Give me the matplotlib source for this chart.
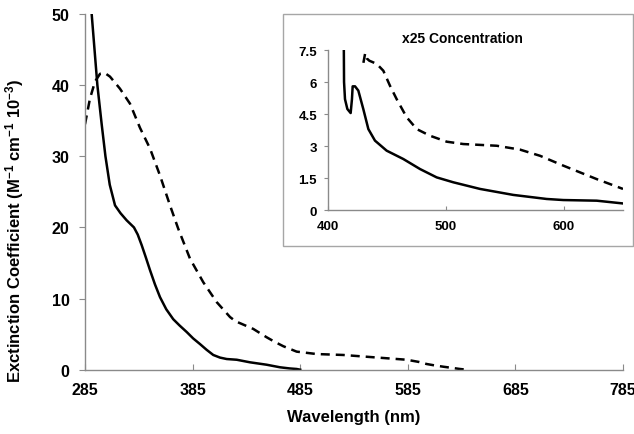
import matplotlib
matplotlib.use("Agg")
import matplotlib.pyplot as plt
from matplotlib.patches import Rectangle

plt.rcParams['font.family'] = ['Liberation Sans', 'DejaVu Sans']
plt.rcParams['font.weight'] = 'bold'
plt.rcParams['mathtext.fontset'] = 'custom'
plt.rcParams['mathtext.bf'] = 'Liberation Sans:bold'
plt.rcParams['mathtext.rm'] = 'Liberation Sans:bold'
plt.rcParams['mathtext.default'] = 'bf'

# ---- main spectrum (solid) ----
solid_wl = [289, 291.2, 296.5, 300.5, 304, 308, 312.9, 318, 323.7, 330.5, 334,
            337.7, 341.5, 345.4, 350, 354.7, 360.5, 367, 373, 379.5, 385.5, 391.9,
            398, 404.2, 410.5, 416.7, 426, 438.3, 453.8, 466.2, 475, 481.7, 485]
solid_eps = [55, 50, 40, 34.5, 30, 26.0, 23.1, 22.0, 21.0, 20.0, 19.0,
             17.5, 15.8, 14.0, 12.0, 10.2, 8.5, 7.1, 6.2, 5.3, 4.4, 3.6,
             2.8, 2.07, 1.7, 1.5, 1.4, 1.04, 0.7, 0.34, 0.18, 0.1, 0.0]

# ---- main spectrum (dashed) ----
dash_wl = [285, 289.6, 294.3, 299, 303.5, 308.2, 317.5, 326.8, 336.1, 345.4, 354.7,
           364, 371.7, 382.6, 394.9, 407.4, 419.8, 425, 430.6, 441.4, 453.8, 461.5,
           469.3, 481.7, 500.3, 525, 552.9, 583.9, 595, 602.5, 610, 618, 633.5, 639.7]
dash_eps = [34.5, 38.1, 40.5, 41.6, 41.7, 41.2, 39.5, 37.4, 34.0, 31.1, 27.3,
            23.1, 19.8, 15.6, 12.3, 9.5, 7.4, 6.8, 6.44, 5.73, 4.56, 3.9,
            3.3, 2.54, 2.2, 2.07, 1.75, 1.4, 1.1, 0.8, 0.6, 0.42, 0.1, 0.0]

# ---- inset (x25 concentration) ----
in_solid_wl = [413.3, 413.6, 414.4, 416.4, 419.2, 420.3, 420.9, 422.9, 425.7, 429.9,
               434.2, 439.8, 449.7, 463.8, 478, 492.1, 506.2, 528.8, 557, 585.3,
               599.4, 627.7, 650]
in_solid_val = [8.5, 6.0, 5.2, 4.74, 4.55, 5.2, 5.8, 5.8, 5.6, 4.74,
                3.8, 3.26, 2.79, 2.40, 1.93, 1.54, 1.31, 1.0, 0.72, 0.53,
                0.48, 0.45, 0.32]
in_dash_wl = [430, 431.5, 433, 435, 441.3, 446.9, 452.5, 458.2, 466.7, 475.2,
              486.4, 500.6, 514.7, 543, 562.7, 579.7, 599.4, 627.7, 650]
in_dash_val = [6.9, 7.35, 7.1, 7.0, 6.85, 6.53, 5.83, 5.2, 4.35, 3.8,
               3.49, 3.21, 3.1, 3.02, 2.84, 2.55, 2.09, 1.46, 1.0]

main_xticks = [285, 385, 485, 585, 685, 785]
main_yticks = [0, 10, 20, 30, 40, 50]
inset_xticks = [400, 500, 600]
inset_yticks = [0, 1.5, 3, 4.5, 6, 7.5]
inset_yticklabels = ['0', '1.5', '3', '4.5', '6', '7.5']

W, H = 634, 435
fig = plt.figure(figsize=(W / 100, H / 100), dpi=100)
spine_c = '#8a8a8a'

ax = fig.add_axes([85 / W, 1 - 370.7 / H, (623 - 85) / W, (370.7 - 15) / H])
ax.plot(solid_wl, solid_eps, color='black', lw=1.8, solid_joinstyle='round')
ax.plot(dash_wl, dash_eps, color='black', lw=1.8, linestyle=(0, (3.6, 2.4)))
ax.set_xlim(285, 785)
ax.set_ylim(0, 50)
ax.set_xticks(main_xticks)
ax.set_yticks(main_yticks)
for s in ['top', 'right']:
    ax.spines[s].set_visible(False)
for s in ['left', 'bottom']:
    ax.spines[s].set_color(spine_c)
    ax.spines[s].set_linewidth(1.0)
ax.tick_params(axis='x', direction='in', length=4, color=spine_c, labelsize=11.5, pad=9)
ax.tick_params(axis='y', direction='out', length=4, color=spine_c, labelsize=11.5, pad=7)
for lab in ax.get_xticklabels() + ax.get_yticklabels():
    lab.set_fontweight('bold')

fig.text(354 / W, 1 - 418 / H, 'Wavelength (nm)', ha='center', va='center',
         fontsize=12, fontweight='bold')
fig.text(15 / W, 1 - 231 / H,
         r'Exctinction Coefficient (M$^{-1}$ cm$^{-1}$ 10$^{-3}$)',
         ha='center', va='center', rotation=90, fontsize=12, fontweight='bold')

# inset frame
frame = Rectangle((283 / W, 1 - 247 / H), (633 - 283) / W, (247 - 15) / H,
                  transform=fig.transFigure, facecolor='white', edgecolor='#a6a6a6',
                  lw=1.0, zorder=2)
fig.patches.append(frame)

ins = fig.add_axes([328 / W, 1 - 211.3 / H, (623 - 328) / W, (211.3 - 51) / H], zorder=3)
ins.patch.set_alpha(0)
ins.plot(in_solid_wl, in_solid_val, color='black', lw=1.8, solid_joinstyle='round')
ins.plot(in_dash_wl, in_dash_val, color='black', lw=1.8, linestyle=(0, (3.6, 2.4)))
ins.set_xlim(400, 650)
ins.set_ylim(0, 7.5)
ins.set_xticks(inset_xticks)
ins.set_yticks(inset_yticks)
ins.set_yticklabels(inset_yticklabels)
for s in ['top', 'right']:
    ins.spines[s].set_visible(False)
for s in ['left', 'bottom']:
    ins.spines[s].set_color(spine_c)
    ins.spines[s].set_linewidth(1.0)
ins.tick_params(axis='x', direction='in', length=3, color=spine_c, labelsize=9.5, pad=7)
ins.tick_params(axis='y', direction='out', length=3, color=spine_c, labelsize=9.5, pad=5)
for lab in ins.get_xticklabels() + ins.get_yticklabels():
    lab.set_fontweight('bold')
fig.text(462 / W, 1 - 39 / H, 'x25 Concentration', ha='center', va='center',
         fontsize=10, fontweight='bold', zorder=4)

fig.savefig('out.png', dpi=100)
